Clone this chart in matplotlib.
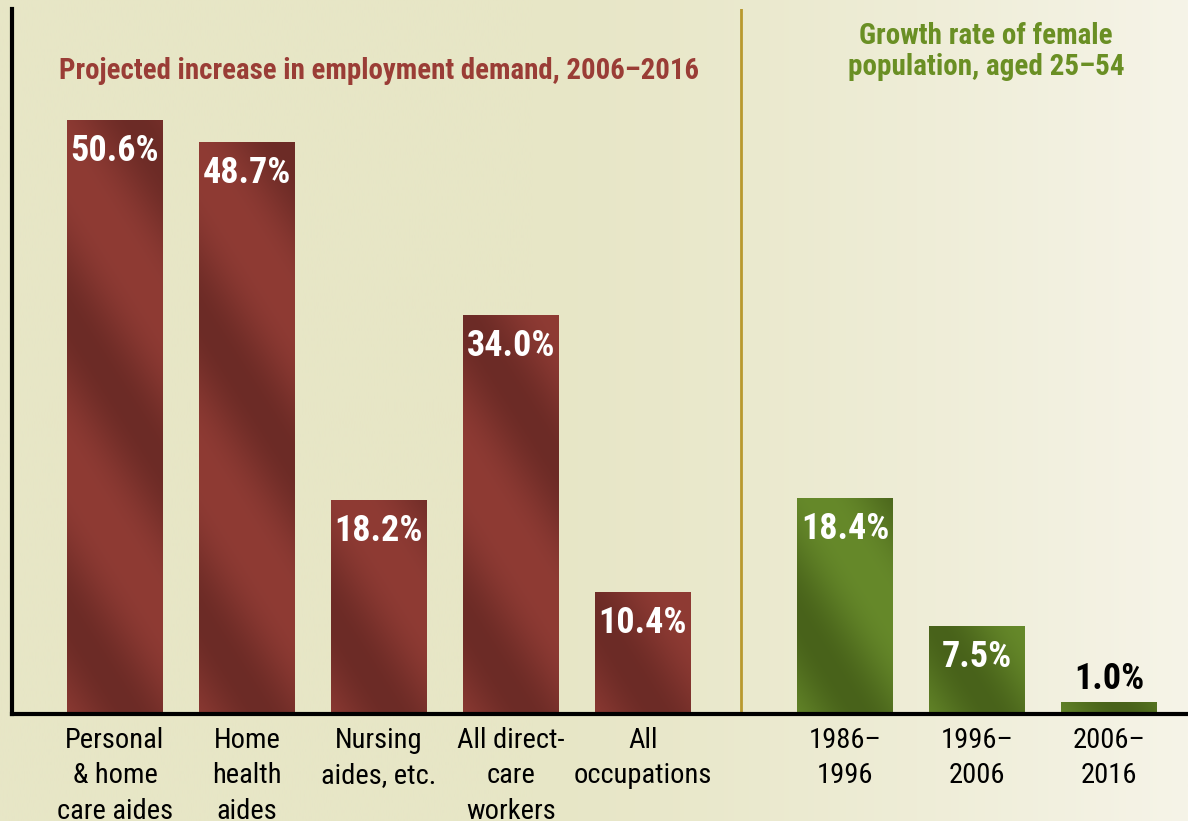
import numpy as np
import matplotlib
matplotlib.use("Agg")
import matplotlib.pyplot as plt
from matplotlib import font_manager as fm
from matplotlib.colors import to_rgb

# ---- data ----
occ_labels = ["Personal\n& home\ncare aides", "Home\nhealth\naides", "Nursing\naides, etc.",
              "All direct-\ncare\nworkers", "All\noccupations"]
occ_values = [50.6, 48.7, 18.2, 34.0, 10.4]
pop_labels = ["1986–\n1996", "1996–\n2006", "2006–\n2016"]
pop_values = [18.4, 7.5, 1.0]
occ_title = "Projected increase in employment demand, 2006–2016"
pop_title = "Growth rate of female\npopulation, aged 25–54"

# ---- fonts ----
names = {f.name for f in fm.fontManager.ttflist}
fam = [n for n in ["Liberation Sans Narrow", "Roboto Condensed", "DejaVu Sans"] if n in names] or ["DejaVu Sans"]
plt.rcParams['font.family'] = fam + ["DejaVu Sans"]
stretch = 'condensed' if fam[0] == "DejaVu Sans" else 'normal'

W, H = 1188, 821
fig = plt.figure(figsize=(W / 100, H / 100), dpi=100)

# background gradient
bg = fig.add_axes([0, 0, 1, 1], zorder=0)
bg.set_axis_off()
xs = np.linspace(0, 1, 400)
c0 = np.array(to_rgb("#e7e6c6"))
c1 = np.array(to_rgb("#f6f4e8"))
t = np.clip((xs - 0.45) / 0.55, 0, 1) ** 1.3
grad = c0[None, :] * (1 - t[:, None]) + c1[None, :] * t[:, None]
bg.imshow(grad[None, :, :], aspect='auto', extent=[0, 1, 0, 1])
bg.set_xlim(0, 1); bg.set_ylim(0, 1)

left_px, right_px, top_px, base_px = 12, 1188, 9, 714
ax = fig.add_axes([left_px / W, (H - base_px) / H, (right_px - left_px) / W, (base_px - top_px) / H], zorder=1)
ax.patch.set_alpha(0)

occ_x = np.arange(len(occ_values), dtype=float)
pop_x = occ_x[-1] + 1.53 + np.arange(len(pop_values))
bw = 96 / 132
XL = (-103 / 132, (1188 - 115) / 132)
YL = (0, (base_px - top_px) / 11.73)
ax.set_xlim(*XL)
ax.set_ylim(*YL)

for s in ["top", "right"]:
    ax.spines[s].set_visible(False)
for s in ["left", "bottom"]:
    ax.spines[s].set_linewidth(3)
    ax.spines[s].set_color("black")
ax.set_yticks([])
ax.tick_params(axis='x', length=0, pad=9)

fig.canvas.draw()


def stripe_bar(x, h, light, dark):
    lo = np.array(to_rgb(light)); dk = np.array(to_rgb(dark))
    (x0, y0) = ax.transData.transform((x - bw / 2, 0))
    (x1, y1) = ax.transData.transform((x + bw / 2, h))
    wpx = max(int(round(x1 - x0)), 1)
    hpx = max(int(round(y1 - y0)), 1)
    px = np.arange(wpx)[None, :] + 0.5
    py = (H - y1) + np.arange(hpx)[:, None] + 0.5  # from figure top, downward
    s = 1.56 * px - py
    v = 0.5 + 0.5 * np.cos(2 * np.pi * (s + 315) / 300)
    v = np.clip(v, 0, 1) ** 1.3
    img = lo[None, None, :] * (1 - v[..., None]) + dk[None, None, :] * v[..., None]
    ax.imshow(img, extent=[x - bw / 2, x + bw / 2, 0, h], aspect='auto', zorder=2, interpolation='bilinear')


for x, v in zip(occ_x, occ_values):
    stripe_bar(x, v, "#8f3b34", "#6c2b26")
for x, v in zip(pop_x, pop_values):
    stripe_bar(x, v, "#66892a", "#48621a")
ax.set_xlim(*XL)
ax.set_ylim(*YL)

# value labels
for x, v in zip(list(occ_x) + list(pop_x), occ_values + pop_values):
    if v > 3:
        ax.annotate(f"{v:.1f}%", (x, v), xytext=(0, -9), textcoords='offset points',
                    ha='center', va='top', color='white', fontsize=26, fontweight='bold',
                    fontstretch=stretch, zorder=3)
    else:
        ax.annotate(f"{v:.1f}%", (x, v), xytext=(0, 4), textcoords='offset points',
                    ha='center', va='bottom', color='black', fontsize=26, fontweight='bold',
                    fontstretch=stretch, zorder=3)

ax.set_xticks(list(occ_x) + list(pop_x))
ax.set_xticklabels(occ_labels + pop_labels, fontsize=20.5, linespacing=1.42, fontstretch=stretch)

# divider
div_x = pop_x[0] - 103.5 / 132
ax.axvline(div_x, color="#b8992e", lw=2, zorder=1)

# titles
ax.text(np.mean(occ_x), 0.912, occ_title, transform=ax.get_xaxis_transform(), ha='center', va='center',
        color="#9a3d36", fontsize=20.8, fontweight='bold', fontstretch=stretch)
ax.text(np.mean(pop_x) + 0.07, 0.940, pop_title, transform=ax.get_xaxis_transform(), ha='center', va='center',
        color="#6a8f24", fontsize=21, fontweight='bold', fontstretch=stretch, linespacing=1.12)

fig.savefig("out.png", dpi=100)
